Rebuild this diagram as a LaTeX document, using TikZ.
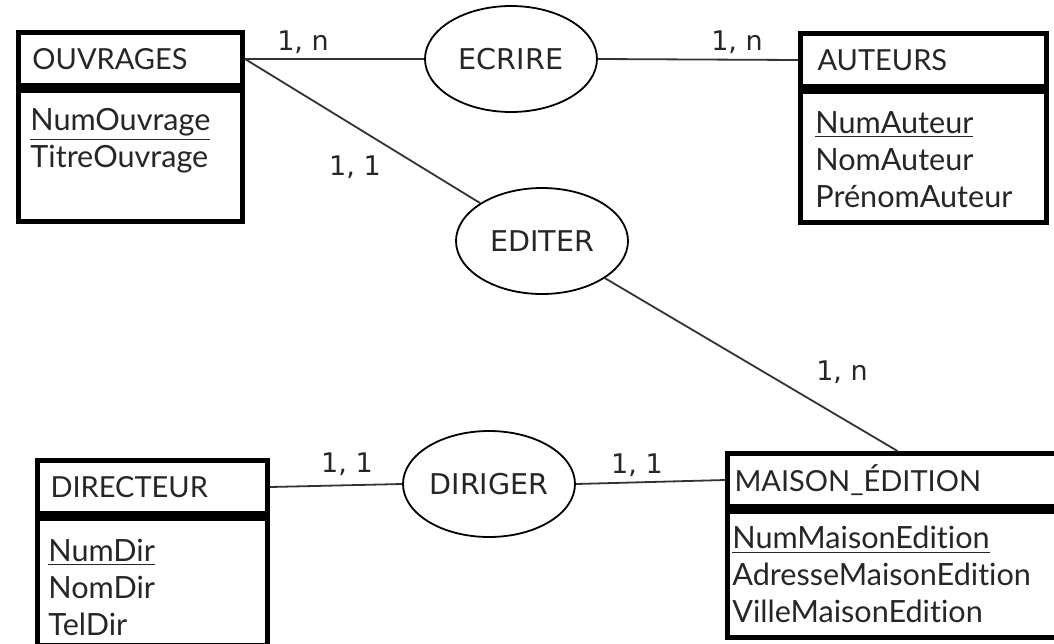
\documentclass[tikz,border=0pt]{standalone}
\usepackage{fontspec}
\newfontfamily\boitefont{Lato}[Ligatures={NoCommon}]
\newfontfamily\ovalefont{DejaVu Sans}
\usetikzlibrary{positioning,shapes.geometric}

\begin{document}
\begin{tikzpicture}[x=0.5pt,y=0.5pt,
        entete/.style={rectangle, draw, line width=2.5pt, anchor=north west, align=left, minimum height=26.5pt, text=black!85, font={\boitefont\fontsize{14.5}{18.5}\selectfont}},
        corps/.style={rectangle, draw, line width=2.5pt, minimum height=65.5pt},
        attributs/.style={align=left, inner sep=0pt, text=black!85, font={\boitefont\fontsize{15.3}{18.5}\selectfont}},
        association/.style={ellipse, draw, line width=0.9pt, minimum width=86pt, minimum height=53pt, inner sep=0pt, text=black!85, font={\ovalefont\fontsize{14.3}{17}\selectfont}},
        cardinalite/.style={anchor=base, inner sep=0pt, text=black!85, font={\ovalefont\fontsize{13.5}{16}\selectfont}},
        lien/.style={line width=0.9pt, draw=black!80},
]
        \path[use as bounding box, clip] (0,0) rectangle (1054,-643);

        % entites
        \node[entete, inner xsep=7pt, text width=98pt] (ouvh) at (16,-30) {OUVRAGES};
        \node[corps, minimum width=112pt] (ouvb) [below right=0pt and 0pt of ouvh.south west] {};
        \node[attributs] (ouva) [below right=10pt and 7pt of ouvb.north west] {\underline{NumOuvrage}\\TitreOuvrage};

        \node[entete, inner xsep=8.5pt, text width=106pt] (auth) at (798,-31) {AUTEURS};
        \node[corps, minimum width=123pt] (autb) [below right=0pt and 0pt of auth.south west] {};
        \node[attributs] (auta) [below right=11pt and 8.5pt of autb.north west] {\underline{NumAuteur}\\NomAuteur\\PrénomAuteur};

        \node[entete, inner xsep=6.5pt, text width=102pt] (dirh) at (35,-458) {DIRECTEUR};
        \node[corps, minimum width=115pt, minimum height=63.5pt] (dirb) [below right=0pt and 0pt of dirh.south west] {};
        \node[attributs] (dira) [below right=11.5pt and 6.5pt of dirb.north west] {\underline{NumDir}\\NomDir\\TelDir};

        \node[entete, inner xsep=3.5pt, text width=163pt] (maisonh) at (725,-451) {MAISON\_ÉDITION};
        \node[corps, minimum width=170pt, minimum height=63pt] (maisonb) [below right=0pt and 0pt of maisonh.south west] {};
        \node[attributs] (maisona) [below right=8.5pt and 3.5pt of maisonb.north west] {\underline{NumMaisonEdition}\\AdresseMaisonEdition\\VilleMaisonEdition};

        % associations
        \node[association] (ecrire) at (511,-59) {ECRIRE};
        \node[association] (editer) at (542,-241) {EDITER};
        \node[association] (diriger) at (489,-484) {DIRIGER};

        \draw[lien] (ouvh.east) -- (ecrire.west);
        \draw[lien] (ecrire.east) -- (auth.west);
        \draw[lien] (ouvh.east) -- (editer);
        \draw[lien] (editer) -- (maisonh.north);
        \draw[lien] (dirh.east) -- (diriger.west);
        \draw[lien] (diriger.east) -- (maisonh.west);

        % cardinalites
        \node[cardinalite] (card1) at (303,-50) {1, n};
        \node[cardinalite] (card2) at (737,-50) {1, n};
        \node[cardinalite] (card3) at (355,-175) {1, 1};
        \node[cardinalite] (card4) at (842,-380) {1, n};
        \node[cardinalite] (card5) at (347,-472) {1, 1};
        \node[cardinalite] (card6) at (637,-473) {1, 1};
\end{tikzpicture}
\end{document}
